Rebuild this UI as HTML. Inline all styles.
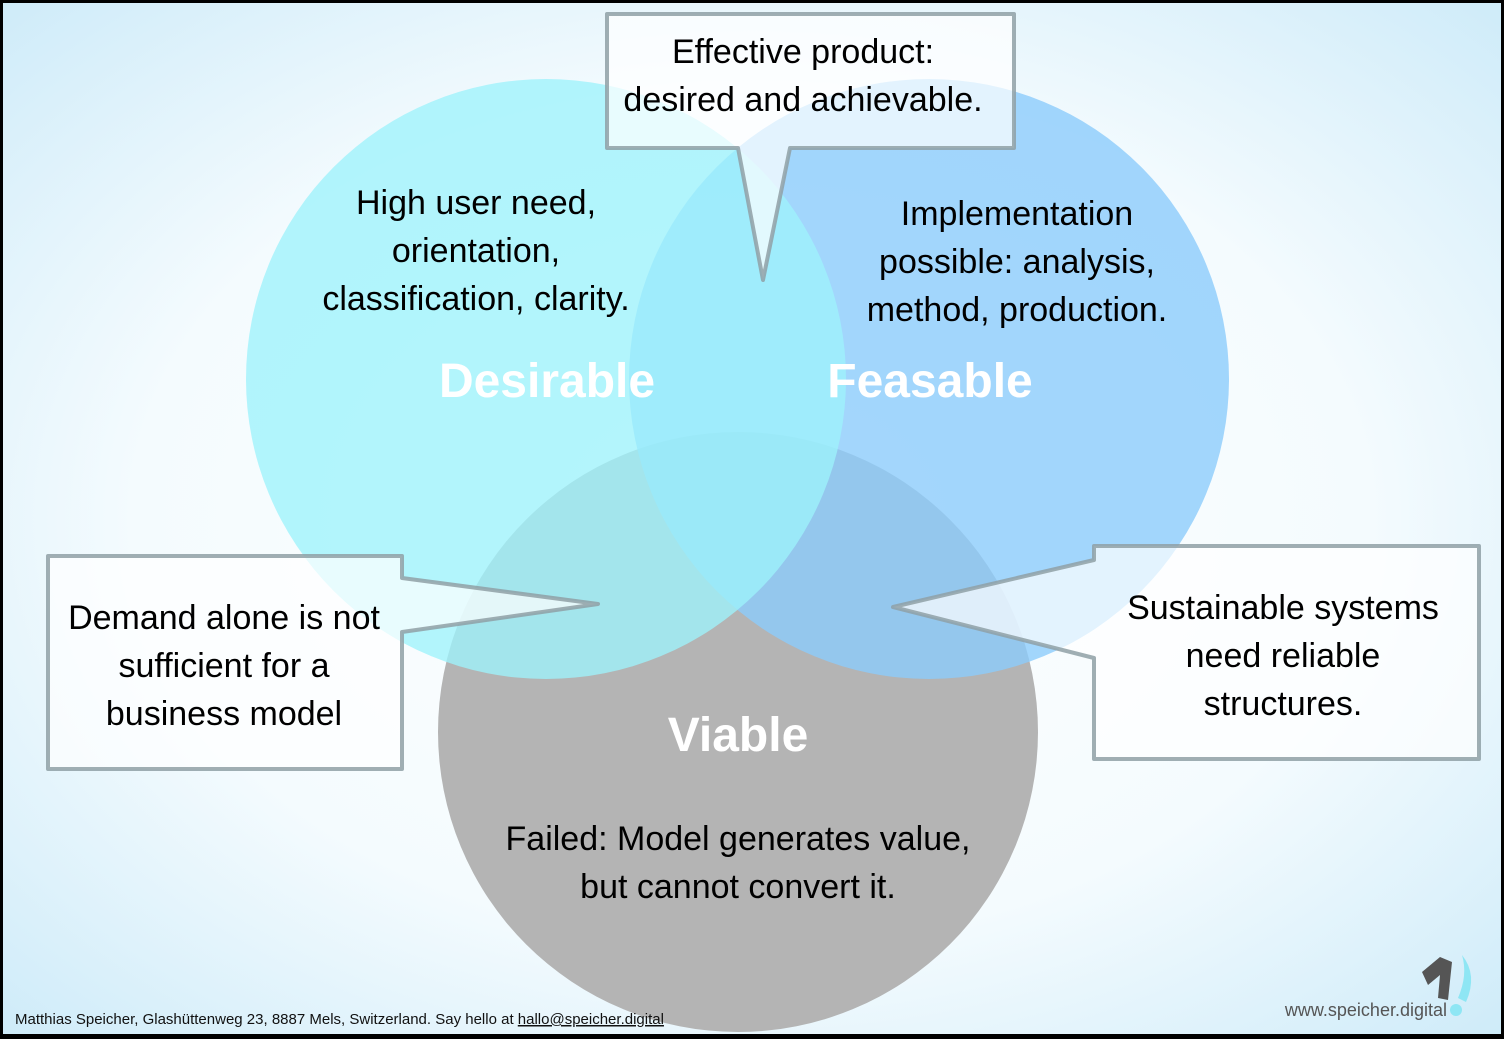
<!DOCTYPE html>
<html><head><meta charset="utf-8"><style>
html,body{margin:0;padding:0;width:1504px;height:1039px;overflow:hidden}
</style></head><body>
<svg width="1504" height="1039" viewBox="0 0 1504 1039" xmlns="http://www.w3.org/2000/svg" font-family="Liberation Sans, sans-serif">
<defs>
<radialGradient id="bg" cx="50%" cy="50%" r="75%">
<stop offset="0" stop-color="#ffffff"/>
<stop offset="0.55" stop-color="#f4fbfe"/>
<stop offset="1" stop-color="#c9e9f8"/>
</radialGradient>
</defs>
<rect x="0" y="0" width="1504" height="1039" fill="#000"/>
<rect x="3" y="3" width="1498" height="1031" fill="url(#bg)"/>
<circle cx="738" cy="732" r="300" fill="#b4b4b4"/>
<circle cx="929" cy="379" r="300" fill="#8cccfb" fill-opacity="0.8"/>
<circle cx="546" cy="379" r="300" fill="#9ef2fb" fill-opacity="0.78"/>
<g fill="#fff" font-weight="bold" font-size="48" text-anchor="middle">
<text x="547" y="397">Desirable</text>
<text x="930" y="397">Feasable</text>
<text x="738" y="751">Viable</text>
</g>
<g fill="#000" font-size="34" text-anchor="middle">
<text x="476" y="214">High user need,</text>
<text x="476" y="262">orientation,</text>
<text x="476" y="310">classification, clarity.</text>
<text x="1017" y="225">Implementation</text>
<text x="1017" y="273">possible: analysis,</text>
<text x="1017" y="321">method, production.</text>
<text x="738" y="850">Failed: Model generates value,</text>
<text x="738" y="898">but cannot convert it.</text>
</g>
<g fill="#fff" fill-opacity="0.7" stroke="#8fa0a6" stroke-opacity="0.85" stroke-width="4" stroke-linejoin="round">
<path d="M607,14 H1014 V148 H790 L763,280 L738,148 H607 Z"/>
<path d="M48,556 H402 V578 L598,604 L402,632 V769 H48 Z"/>
<path d="M1094,546 H1479 V759 H1094 V658 L893,607 L1094,560 Z"/>
</g>
<g fill="#000" font-size="34" text-anchor="middle">
<text x="803" y="63">Effective product:</text>
<text x="803" y="111">desired and achievable.</text>
<text x="224" y="629">Demand alone is not</text>
<text x="224" y="677">sufficient for a</text>
<text x="224" y="725">business model</text>
<text x="1283" y="619">Sustainable systems</text>
<text x="1283" y="667">need reliable</text>
<text x="1283" y="715">structures.</text>
</g>
<text x="15" y="1024" font-size="15" fill="#111">Matthias Speicher, Glashüttenweg 23, 8887 Mels, Switzerland. Say hello at <tspan text-decoration="underline">hallo@speicher.digital</tspan></text>
<text x="1447" y="1016" font-size="18" fill="#555" text-anchor="end">www.speicher.digital</text>
<path d="M1422,972 L1440,957 L1452,962 L1448,1000 L1438,998 L1440,975 L1428,985 Z" fill="#555"/>
<path d="M1462,955 Q1478,975 1466,1002 L1458,998 Q1468,975 1462,955 Z" fill="#8ee6f4"/>
<circle cx="1456" cy="1010" r="6" fill="#8ee6f4"/>
</svg>
</body></html>
